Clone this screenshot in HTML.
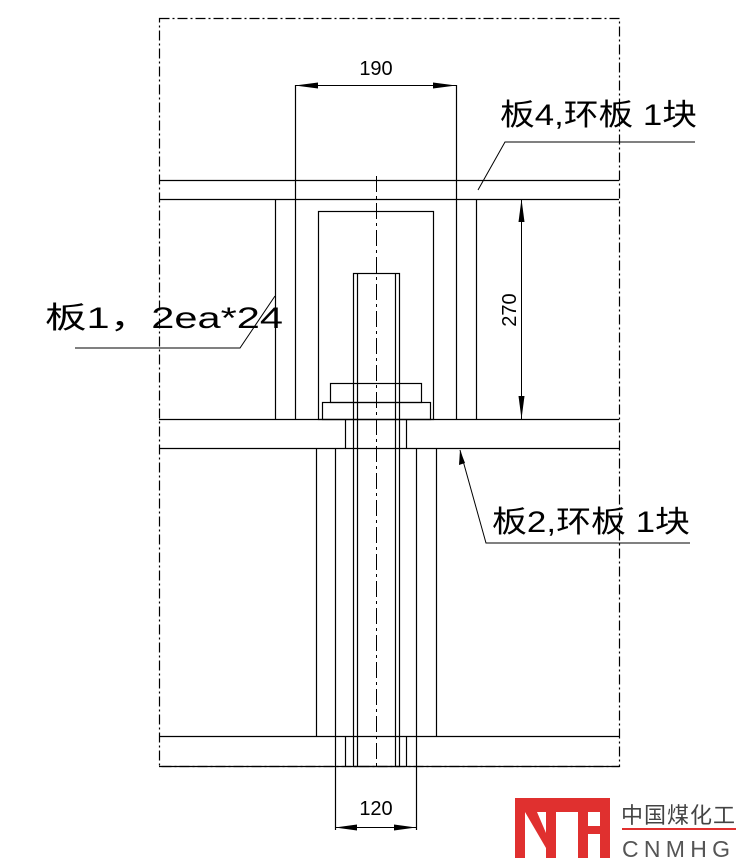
<!DOCTYPE html>
<html><head><meta charset="utf-8"><style>
html,body{margin:0;padding:0;background:#fff;}
svg{display:block;}
text{font-family:"Liberation Sans","Noto Sans CJK SC",sans-serif;}
</style></head><body>
<svg width="742" height="868" viewBox="0 0 742 868" xmlns="http://www.w3.org/2000/svg">
<g stroke="#000" stroke-width="1.2" fill="none">
<rect x="159.5" y="18.5" width="460" height="748" stroke-dasharray="10,3,2,3"/>
<line x1="159" y1="180.5" x2="619" y2="180.5"/>
<line x1="159" y1="199.5" x2="619" y2="199.5"/>
<line x1="295.5" y1="85" x2="295.5" y2="419"/>
<line x1="456.5" y1="85" x2="456.5" y2="419"/>
<line x1="275.5" y1="199" x2="275.5" y2="419"/>
<line x1="476.5" y1="199" x2="476.5" y2="419"/>
<rect x="318.5" y="211.5" width="115" height="208"/>
<rect x="353.5" y="273.5" width="46" height="493"/>
<line x1="357.5" y1="273" x2="357.5" y2="766"/>
<line x1="395.5" y1="273" x2="395.5" y2="766"/>
<rect x="330.5" y="383.5" width="91" height="19"/>
<rect x="322.5" y="402.5" width="108" height="17"/>
<line x1="159" y1="419.5" x2="619" y2="419.5"/>
<line x1="159" y1="448.5" x2="619" y2="448.5"/>
<line x1="345.5" y1="419" x2="345.5" y2="448"/>
<line x1="406.5" y1="419" x2="406.5" y2="448"/>
<line x1="316.5" y1="448" x2="316.5" y2="736"/>
<line x1="436.5" y1="448" x2="436.5" y2="736"/>
<line x1="335.5" y1="448" x2="335.5" y2="830"/>
<line x1="416.5" y1="448" x2="416.5" y2="830"/>
<line x1="159" y1="736.5" x2="619" y2="736.5"/>
<line x1="159" y1="766.5" x2="619" y2="766.5"/>
<line x1="345.5" y1="736" x2="345.5" y2="766"/>
<line x1="406.5" y1="736" x2="406.5" y2="766"/>
<line x1="376.5" y1="176" x2="376.5" y2="770" stroke-width="1" stroke-dasharray="16,4,3,4"/>
<line x1="295" y1="85.5" x2="456" y2="85.5" stroke-width="1"/>
<line x1="521.5" y1="199" x2="521.5" y2="419" stroke-width="1"/>
<line x1="335" y1="827.5" x2="416" y2="827.5" stroke-width="1"/>
<polyline points="478,190 505,142 695,142" stroke-width="1"/>
<polyline points="275,296 240,348 75,348" stroke-width="1"/>
<polyline points="460,450 486,543 690,543" stroke-width="1"/>
</g>
<g fill="#000">
<polygon points="295,85.5 318,82.5 318,88.5"/>
<polygon points="456,85.5 433,82.5 433,88.5"/>
<polygon points="521.5,199 518.5,222 524.5,222"/>
<polygon points="521.5,419 518.5,396 524.5,396"/>
<polygon points="335,827.5 357,824.5 357,830.5"/>
<polygon points="416,827.5 394,824.5 394,830.5"/>
<polygon points="460,450 459,465 465,463"/>
</g>
<g fill="#000">
<text x="376" y="75" text-anchor="middle" font-size="20">190</text>
<text x="376" y="815" text-anchor="middle" font-size="20">120</text>
<text transform="translate(516,310) rotate(-90)" text-anchor="middle" font-size="20">270</text>
<text x="500" y="125" font-size="30" textLength="197" lengthAdjust="spacingAndGlyphs">板4,环板  1块</text>
<text x="45" y="328" font-size="30" textLength="238" lengthAdjust="spacingAndGlyphs">板1，2ea*24</text>
<text x="492" y="532" font-size="30" textLength="198" lengthAdjust="spacingAndGlyphs">板2,环板  1块</text>
</g>
<g fill="#e0302f">
<rect x="515" y="798" width="95" height="14"/>
<rect x="515" y="812" width="10" height="46"/>
<rect x="546" y="812" width="10" height="46"/>
<polygon points="525,812 537,812 549,840 546,848"/>
<rect x="578" y="812" width="10" height="46"/>
<rect x="600" y="812" width="10" height="46"/>
<rect x="588" y="826" width="12" height="8"/>
<rect x="622" y="828" width="114" height="2"/>
</g>
<text x="621" y="823" font-size="22" fill="#444" font-family="'Noto Sans CJK SC',sans-serif" textLength="114">中国煤化工</text>
<text x="622" y="857" font-size="23" fill="#555" textLength="114" letter-spacing="6">CNMHG</text>
</svg>
</body></html>
